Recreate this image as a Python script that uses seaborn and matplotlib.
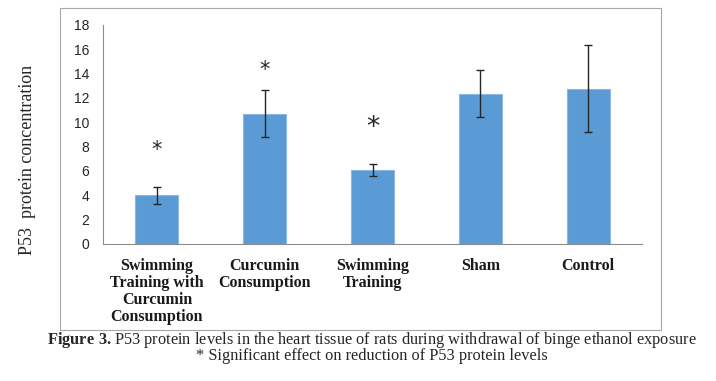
import numpy as np
import pandas as pd
import seaborn as sns
import matplotlib.pyplot as plt
from matplotlib.patches import Rectangle

groups = ["Swimming\nTraining with\nCurcumin\nConsumption",
          "Curcumin\nConsumption",
          "Swimming\nTraining",
          "Sham",
          "Control"]
p53_mean = [4.0, 10.7, 6.05, 12.35, 12.75]
p53_err = [0.68, 1.9, 0.5, 1.9, 3.57]
# asterisks over the first three groups
star_y = [7.7, 14.3, 9.5]
star_size = [15, 15, 19]

sns.set_style("white")
plt.rcParams['font.family'] = ['Liberation Serif', 'DejaVu Sans']
plt.rcParams['mathtext.fontset'] = 'custom'
plt.rcParams['mathtext.bf'] = 'Liberation Serif:bold'
plt.rcParams['mathtext.rm'] = 'Liberation Serif'

fig = plt.figure(figsize=(7.16, 3.81), dpi=100)
ax = fig.add_axes([0.1439, 0.3596, 0.7528, 0.5756])

df = pd.DataFrame({"group": groups, "p53": p53_mean})
sns.barplot(data=df, x="group", y="p53", color="#5B9BD5", saturation=1,
            width=0.4, edgecolor="#8DB6E2", linewidth=0.8, errorbar=None, ax=ax)
ax.errorbar(range(len(groups)), p53_mean, yerr=p53_err, fmt='none',
            ecolor='#262626', elinewidth=1, capsize=3, capthick=1)

for i, (y, s) in enumerate(zip(star_y, star_size)):
    ax.text(i, y, '*', ha='center', va='center', fontsize=s,
            family='DejaVu Sans', color='#262626')

ax.set_xlim(-0.5, 4.5)
ax.set_ylim(0, 18)
ax.set_yticks(range(0, 19, 2))
ax.set_xlabel("")
ax.set_ylabel("")
ax.set_xticks(np.arange(-0.5, 5, 1), minor=True)

for s in ['top', 'right']:
    ax.spines[s].set_visible(False)
for s in ['left', 'bottom']:
    ax.spines[s].set_color('#8c8c8c')
    ax.spines[s].set_linewidth(0.8)

ax.tick_params(axis='y', length=6, color='#8c8c8c', labelsize=10,
               labelcolor='#262626', labelfontfamily='Liberation Sans', pad=4)
ax.tick_params(axis='x', which='major', length=0, pad=10)
ax.tick_params(axis='x', which='minor', length=4, color='#8c8c8c')
for t in ax.get_xticklabels():
    t.set_fontweight('bold')
    t.set_fontsize(11.5)
    t.set_linespacing(1.1)
    t.set_color('#1a1a1a')

fig.text(28 / 716, (381 - 160) / 381, "P53  protein concentration",
         rotation=90, ha='center', va='center', fontsize=13)

fig.add_artist(Rectangle((0.0838, 0.1339), 0.8394, 0.8451,
                         transform=fig.transFigure, fill=False,
                         edgecolor='#a6a6a6', linewidth=0.8))

caption = (r"$\mathbf{Figure\ 3.}$P53 protein levels in the heart tissue of rats "
           "during withdrawal of binge ethanol exposure\n"
           "* Significant effect on reduction of P53 protein levels")
fig.text(372 / 716, (381 - 347) / 381, caption, fontsize=11.8,
         ha='center', va='center', multialignment='center', linespacing=0.85)

fig.savefig("out.png", dpi=100)
